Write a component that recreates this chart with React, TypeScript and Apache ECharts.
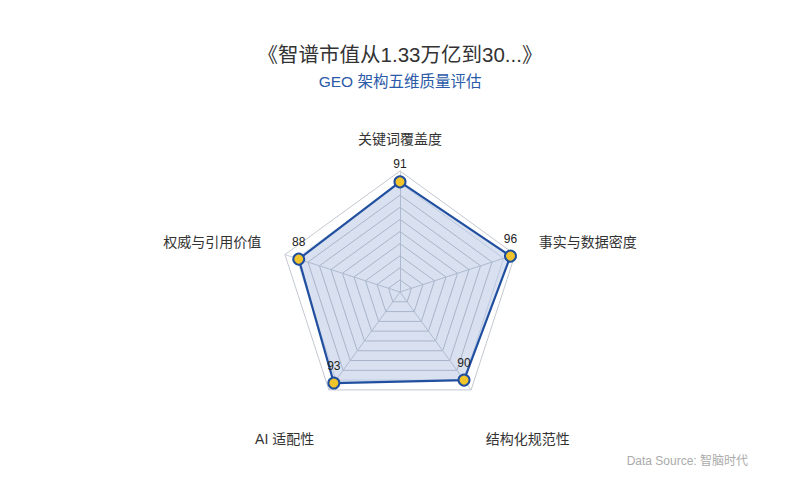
import React, { useEffect, useRef } from "react";
import * as echarts from "echarts";

const dimensions = ["关键词覆盖度", "权威与引用价值", "AI 适配性", "结构化规范性", "事实与数据密度"];
const scores = [91, 88, 93, 90, 96];
const maxScore = 100;
// names under the radar sit further down in the original, side names a bit higher
const lowNames = ["AI 适配性", "结构化规范性"];
const sideNames = ["权威与引用价值", "事实与数据密度"];

const FONT = "'Liberation Sans', 'Noto Sans CJK SC', sans-serif";

const App: React.FC = () => {
  const chartRef = useRef<HTMLDivElement>(null);

  useEffect(() => {
    if (!chartRef.current) return;
    const chart = echarts.init(chartRef.current, undefined, { renderer: "svg" });

    const option: echarts.EChartsOption = {
      animation: false,
      backgroundColor: "#ffffff",
      textStyle: { fontFamily: FONT },
      title: {
        text: "《智谱市值从1.33万亿到30...》",
        subtext: "GEO 架构五维质量评估",
        left: "center",
        top: 39,
        itemGap: 9,
        textStyle: { fontSize: 20.5, fontWeight: "normal", color: "#333333", fontFamily: FONT },
        subtextStyle: { fontSize: 15.5, color: "#2a5aa8", fontFamily: FONT },
      },
      graphic: [
        {
          type: "text",
          right: 52,
          top: 455,
          style: { text: "Data Source: 智脑时代", fill: "#aaaaaa", fontSize: 12, fontFamily: FONT },
        },
      ],
      radar: {
        center: ["50%", "58.4%"],
        radius: "48.4%",
        splitNumber: 10,
        indicator: dimensions.map((name) => ({ name, max: maxScore })),
        axisName: {
          color: "#333333",
          fontSize: 14,
          fontFamily: FONT,
          formatter: (name?: string) => {
            const n = name ?? "";
            if (lowNames.includes(n)) return `{low|${n}}`;
            if (sideNames.includes(n)) return `{side|${n}}`;
            return `{n|${n}}`;
          },
          rich: {
            n: { fontSize: 14, color: "#333333", fontFamily: FONT },
            side: { fontSize: 14, color: "#333333", fontFamily: FONT, padding: [0, 0, 10, 0] },
            low: { fontSize: 14, color: "#333333", fontFamily: FONT, padding: [58, 0, 0, 0] },
          },
        },
        nameGap: 25,
        axisLine: { lineStyle: { color: "#c9cfd9" } },
        splitLine: {
          lineStyle: {
            color: ["#c3c8d0", "#c3c8d0", "#c3c8d0", "#c3c8d0", "#c3c8d0", "#c3c8d0", "#c3c8d0", "#c3c8d0", "#c3c8d0", "#dbe3ee"],
          },
        },
        splitArea: { show: false },
      },
      series: [
        {
          type: "radar",
          symbol: "circle",
          symbolSize: 11,
          data: [
            {
              value: scores,
              name: "评分",
              label: { show: true, color: "#222222", fontSize: 12, distance: 5, fontFamily: FONT },
              itemStyle: { color: "#f2c42c", borderColor: "#1f4e9e", borderWidth: 2 },
              lineStyle: { color: "#1f4e9e", width: 2.2 },
              areaStyle: { color: "rgba(60, 100, 180, 0.28)" },
            },
          ],
        },
      ],
    };

    chart.setOption(option);

    return () => {
      chart.dispose();
    };
  }, []);

  return <div ref={chartRef} style={{ width: 800, height: 500, position: "absolute", left: 0, top: 0 }} />;
};

export default App;
